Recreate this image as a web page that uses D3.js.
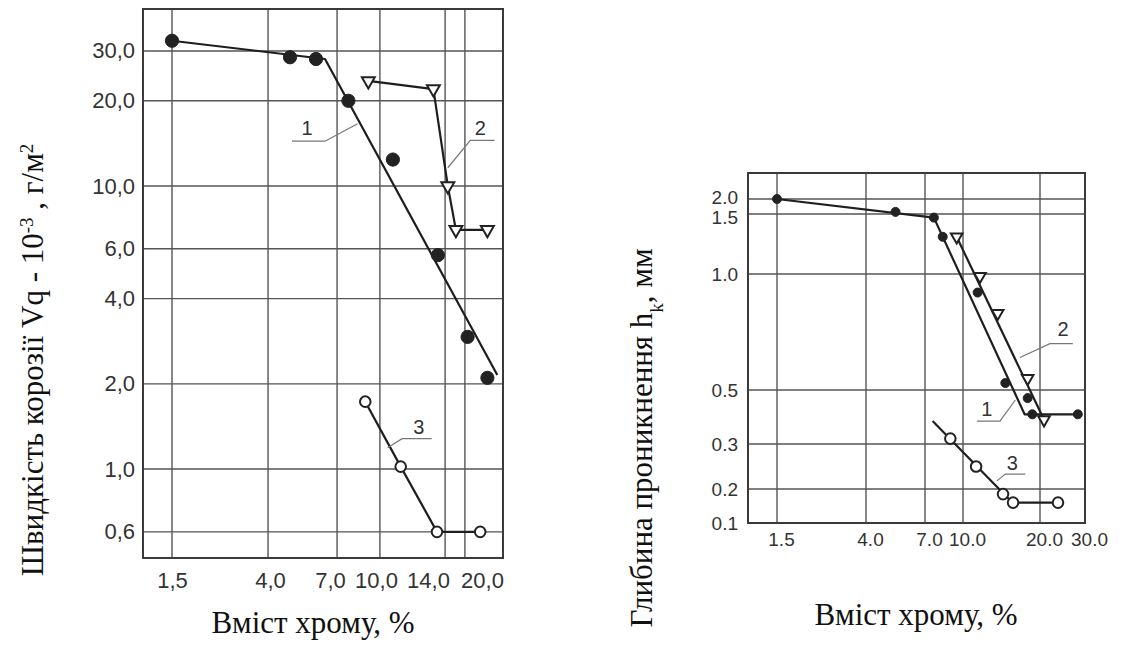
<!DOCTYPE html>
<html>
<head>
<meta charset="utf-8">
<script src="https://cdn.jsdelivr.net/npm/d3@7"></script>
<style>
  body { margin: 0; background: #fff; }
  .tick text { font-family: "Liberation Sans", Arial, sans-serif; fill: #333; }
</style>
</head>
<body>
<div id="chart"></div>
<script>
// Left panel: corrosion rate vs chromium content
const leftXTicks = [1.5, 4, 7, 10, 14, 20];
const leftXGrid = [1.5, 3.95, 7.46, 10.3, 15.9, 18.1]; // grid lines as printed (not under labels)
const leftYTicks = [30, 20, 10, 6, 4, 2, 1, 0.6];

const leftS1 = [[1.5, 32.6], [5.0, 28.5], [6.3, 28.1], [8.2, 20], [11.3, 12.4], [15.1, 5.7], [18.4, 2.93], [20.6, 2.1]];
const leftS1Fit = [[1.5, 32.6], [6.75, 28.1], [21.7, 2.15]];
const leftS2 = [[9.5, 23.5], [14.6, 22], [16.2, 10], [17.1, 7.0], [20.6, 7.0]];
const leftS3 = [[9.3, 1.73], [11.9, 1.02], [15.0, 0.6], [19.8, 0.6]];

const leftLabels = [
  { text: "1", at: [5.85, 16.0], leader: [[5.1, 14.4], [6.75, 14.4], [8.8, 16.6]] },
  { text: "2", at: [19.8, 16.0], leader: [[21.4, 14.5], [18.7, 14.5], [16.2, 11.6]] },
  { text: "3", at: [13.3, 1.41], leader: [[14.4, 1.28], [12.0, 1.28], [10.9, 1.19]] }
];

// Right panel: penetration depth vs chromium content
const rightXTicks = [1.5, 4, 7, 10, 20, 30];
const rightYTicks = [0.1, 0.2, 0.3, 0.5, 1.0, 1.5, 2.0];

const rightS1 = [[1.5, 2.0], [5.5, 1.57], [7.7, 1.47], [8.4, 1.31], [11.9, 0.92], [15.5, 0.53], [18.4, 0.47], [19.0, 0.41], [28.4, 0.41]];
const rightS1Fit = [[1.5, 2.0], [7.7, 1.47], [18.0, 0.41], [28.4, 0.41]];
const rightS2 = [[9.5, 1.31], [12.2, 0.99], [14.5, 0.83], [18.4, 0.55], [20.9, 0.39]];
const rightS2Fit = [[9.5, 1.31], [20.9, 0.39]];
const rightS3 = [[9.0, 0.32], [11.7, 0.25], [15.2, 0.185], [16.5, 0.16], [24, 0.16]];
const rightS3Fit = [[7.6, 0.385], [16.4, 0.16], [24, 0.16]];

const rightLabels = [
  { text: "1", at: [13.1, 0.43], leader: [[11.8, 0.385], [14.8, 0.385], [16.8, 0.463]] },
  { text: "2", at: [25.1, 0.763], leader: [[27.3, 0.70], [22.2, 0.70], [17.4, 0.64]] },
  { text: "3", at: [16.4, 0.258], leader: [[18.1, 0.233], [15.5, 0.233], [14.4, 0.218]] }
];

const svg = d3.select("#chart").append("svg")
  .attr("width", 1130)
  .attr("height", 645)
  .style("background", "#fff");

const serif = '"Liberation Serif", "Times New Roman", serif';
const commaFmt = d => d3.format(".1f")(d).replace(".", ",");

function drawPanel(opt) {
  const { left, top, width, height, x, y } = opt;
  const g = svg.append("g").attr("transform", `translate(${left},${top})`);

  // grid
  g.selectAll(".vgrid").data(opt.xGrid).enter().append("line")
    .attr("x1", d => x(d)).attr("x2", d => x(d))
    .attr("y1", 0).attr("y2", height)
    .style("stroke", "#555").style("stroke-width", 1.4);
  g.selectAll(".hgrid").data(opt.yGrid).enter().append("line")
    .attr("x1", 0).attr("x2", width)
    .attr("y1", d => y(d)).attr("y2", d => y(d))
    .style("stroke", "#555").style("stroke-width", 1.4);

  g.append("rect")
    .attr("width", width).attr("height", height)
    .style("fill", "none").style("stroke", "#3a3a3a").style("stroke-width", 2);

  // axes (labels only, grid is drawn above)
  const xa = g.append("g").attr("transform", `translate(0,${height})`)
    .call(d3.axisBottom(x).tickValues(opt.xTicks).tickSize(0).tickPadding(opt.xPad).tickFormat(opt.fmt));
  xa.select(".domain").remove();
  xa.selectAll("text").style("font-size", opt.tickFont + "px").attr("dx", opt.xdx || 0);

  const ya = g.append("g")
    .call(d3.axisLeft(y).tickValues(opt.yTicks).tickSize(0).tickPadding(opt.yPad).tickFormat(opt.fmt));
  ya.select(".domain").remove();
  ya.selectAll("text").style("font-size", opt.tickFont + "px");
  if (opt.yNudge) {
    ya.selectAll(".tick").filter(d => opt.yNudge[d] !== undefined)
      .select("text").attr("y", d => opt.yNudge[d]);
  }

  const line = d3.line().x(d => x(d[0])).y(d => y(d[1]));

  // fitted lines
  opt.lines.forEach(l => {
    g.append("path").datum(l)
      .attr("d", line)
      .style("fill", "none").style("stroke", "#1e1e1e").style("stroke-width", 2.2)
      .style("stroke-linejoin", "round");
  });

  // leaders and curve numbers
  opt.labels.forEach(lb => {
    g.append("path").datum(lb.leader)
      .attr("d", line)
      .style("fill", "none").style("stroke", "#777").style("stroke-width", 1.2);
    g.append("text")
      .attr("x", x(lb.at[0])).attr("y", y(lb.at[1]))
      .attr("dy", "0.35em")
      .style("text-anchor", "middle")
      .style("font-family", '"Liberation Sans", Arial, sans-serif')
      .style("font-size", "20px")
      .style("fill", "#333")
      .text(lb.text);
  });

  // markers
  g.selectAll(".filled").data(opt.filled).enter().append("circle")
    .attr("cx", d => x(d[0])).attr("cy", d => y(d[1]))
    .attr("r", opt.rFilled)
    .style("fill", "#222").style("stroke", "#222").style("stroke-width", 1);

  g.selectAll(".tri").data(opt.tri).enter().append("path")
    .attr("d", d3.symbol().type(d3.symbolTriangle).size(opt.triSize))
    .attr("transform", d => `translate(${x(d[0])},${y(d[1])}) rotate(180)`)
    .style("fill", "#fff").style("stroke", "#222").style("stroke-width", 2);

  g.selectAll(".open").data(opt.open).enter().append("circle")
    .attr("cx", d => x(d[0])).attr("cy", d => y(d[1]))
    .attr("r", opt.rOpen)
    .style("fill", "#fff").style("stroke", "#222").style("stroke-width", 2);

  return g;
}

// ---- left panel
const LW = 360, LH = 549;
const xL = d3.scaleLinear().domain(leftXTicks).range([29, 127, 187, 233, 285, 339]);
const yL = d3.scaleLog().domain([0.485, 42.2]).range([LH, 0]);

drawPanel({
  left: 143, top: 9, width: LW, height: LH, x: xL, y: yL,
  xGrid: leftXGrid, yGrid: leftYTicks, xTicks: leftXTicks, yTicks: leftYTicks,
  fmt: commaFmt, tickFont: 22, xPad: 14, yPad: 8,
  lines: [leftS1Fit, leftS2, leftS3],
  labels: leftLabels,
  filled: leftS1, tri: leftS2, open: leftS3,
  rFilled: 6.6, rOpen: 5.3, triSize: 72
});

// ---- right panel
const RW = 337, RH = 350;
const xR = d3.scaleLinear().domain(rightXTicks).range([29, 118, 177, 215, 292, 337]);
const yR = d3.scaleLinear().domain(rightYTicks).range([350, 316, 271, 217, 101, 41, 26]);

drawPanel({
  left: 748, top: 173, width: RW, height: RH, x: xR, y: yR,
  xGrid: rightXTicks.slice(0, -1), yGrid: rightYTicks.slice(1), xTicks: rightXTicks, yTicks: rightYTicks,
  fmt: d3.format(".1f"), tickFont: 19, xPad: 10, yPad: 10, xdx: 4,
  yNudge: { 2.0: -2, 1.5: 3 },
  lines: [rightS1Fit, rightS2Fit, rightS3Fit],
  labels: rightLabels,
  filled: rightS1, tri: rightS2, open: rightS3,
  rFilled: 4.5, rOpen: 5.3, triSize: 58
});

// ---- axis titles
function title(xp, yp, rotate) {
  return svg.append("text")
    .attr("transform", `translate(${xp},${yp})` + (rotate ? " rotate(-90)" : ""))
    .style("text-anchor", "middle")
    .style("font-family", serif)
    .style("font-size", "31px")
    .style("fill", "#111");
}

const t1 = title(43, 360, true);
t1.append("tspan").text("Швидкість корозії Vq - 10");
t1.append("tspan").attr("baseline-shift", "super").style("font-size", "19px").text("-3");
t1.append("tspan").text(" , г/м");
t1.append("tspan").attr("baseline-shift", "super").style("font-size", "19px").text("2");

const t2 = title(652, 438, true);
t2.append("tspan").text("Глибина проникнення h");
t2.append("tspan").attr("baseline-shift", "sub").style("font-size", "19px").text("k");
t2.append("tspan").text(", мм");

title(313, 633, false).text("Вміст хрому, %");
title(916, 625, false).text("Вміст хрому, %");
</script>
</body>
</html>
